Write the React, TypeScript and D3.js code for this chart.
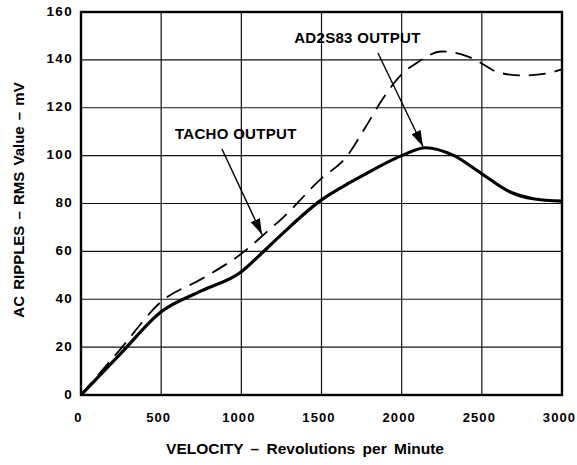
import React, { useEffect, useRef } from 'react';
import * as d3 from 'd3';

// AD2S83 output (solid) – rpm / mV
const solidRpm = [0, 250, 500, 750, 1000, 1100, 1250, 1500, 1650, 1750, 2000, 2150, 2320, 2500, 2680, 2820, 3000];
const solidMv = [0, 17.5, 34.8, 43.5, 51.5, 57.5, 67, 81.5, 87.7, 91.4, 100, 103.3, 100.2, 92.4, 84.7, 82, 81];

// Tacho output (dashed)
const dashRpm = [0, 250, 500, 750, 1000, 1190, 1250, 1500, 1650, 1780, 1880, 2000, 2100, 2250, 2410, 2500, 2600, 2750, 2900, 3000];
const dashMv = [0, 19.5, 39, 48.4, 59, 70, 73.5, 90.5, 99, 112.5, 123.5, 134, 139, 143.5, 141.5, 138.5, 134.8, 133.5, 134.3, 136];

const xTicks = [0, 500, 1000, 1500, 2000, 2500, 3000];
const yTicks = [0, 20, 40, 60, 80, 100, 120, 140, 160];

// annotations: text anchor + arrow tail/tip in data units
const notes = [
  { label: 'TACHO OUTPUT', text: [586, 107], tail: [879, 102.8], tip: [1129, 67] },
  { label: 'AD2S83 OUTPUT', text: [1330, 147], tail: [1852, 142.9], tip: [2133, 103.8] },
];

const FONT = '"Liberation Sans", Arial, Helvetica, sans-serif';

const App = () => {
  const ref = useRef<SVGSVGElement>(null);

  useEffect(() => {
    const svg = d3.select(ref.current);
    svg.selectAll('*').remove();

    const x = d3.scaleLinear().domain([0, 3000]).range([81, 562]);
    const y = d3.scaleLinear().domain([0, 160]).range([395, 12]);

    // grid
    const grid = svg.append('g');
    grid
      .selectAll('line.vx')
      .data(xTicks)
      .enter()
      .append('line')
      .attr('x1', d => x(d))
      .attr('x2', d => x(d))
      .attr('y1', y(0))
      .attr('y2', y(160))
      .attr('stroke', '#111')
      .attr('stroke-width', 1.2);
    grid
      .selectAll('line.hy')
      .data(yTicks)
      .enter()
      .append('line')
      .attr('x1', x(0))
      .attr('x2', x(3000))
      .attr('y1', d => y(d))
      .attr('y2', d => y(d))
      .attr('stroke', '#111')
      .attr('stroke-width', 1.2);

    // frame
    svg
      .append('rect')
      .attr('x', x(0))
      .attr('y', y(160))
      .attr('width', x(3000) - x(0))
      .attr('height', y(0) - y(160))
      .attr('fill', 'none')
      .attr('stroke', '#000')
      .attr('stroke-width', 2.4);

    // tick labels
    svg
      .append('g')
      .selectAll('text')
      .data(xTicks)
      .enter()
      .append('text')
      .attr('x', d => x(d) - 2.5)
      .attr('y', 422)
      .attr('text-anchor', 'middle')
      .style('font', `bold 13px ${FONT}`)
      .style('letter-spacing', '1.1px')
      .text(d => d);
    svg
      .append('g')
      .selectAll('text')
      .data(yTicks)
      .enter()
      .append('text')
      .attr('x', 73)
      .attr('y', d => y(d) + 3.5)
      .attr('text-anchor', 'end')
      .style('font', `bold 13.5px ${FONT}`)
      .style('letter-spacing', '1.3px')
      .text(d => d);

    // axis titles
    svg
      .append('text')
      .attr('x', 305)
      .attr('y', 454)
      .attr('text-anchor', 'middle')
      .style('font', `bold 15.5px ${FONT}`)
      .style('word-spacing', '3px')
      .text('VELOCITY – Revolutions per Minute');
    svg
      .append('text')
      .attr('transform', 'translate(24,200) rotate(-90)')
      .attr('text-anchor', 'middle')
      .style('font', `bold 15px ${FONT}`)
      .style('word-spacing', '2px')
      .text('AC RIPPLES – RMS Value – mV');

    // curves
    const line = d3
      .line<number>()
      .curve(d3.curveMonotoneX);

    svg
      .append('path')
      .attr(
        'd',
        line.x((d, i) => x(dashRpm[i])).y(d => y(d))(dashMv),
      )
      .attr('fill', 'none')
      .attr('stroke', '#000')
      .attr('stroke-width', 1.8)
      .attr('stroke-dasharray', '17,9');

    svg
      .append('path')
      .attr(
        'd',
        line.x((d, i) => x(solidRpm[i])).y(d => y(d))(solidMv),
      )
      .attr('fill', 'none')
      .attr('stroke', '#000')
      .attr('stroke-width', 3.2)
      .attr('stroke-linejoin', 'round');

    // annotations
    const defs = svg.append('defs');
    defs
      .append('marker')
      .attr('id', 'arrowHead')
      .attr('viewBox', '0 0 16 10')
      .attr('refX', 16)
      .attr('refY', 5)
      .attr('markerWidth', 16)
      .attr('markerHeight', 10)
      .attr('markerUnits', 'userSpaceOnUse')
      .attr('orient', 'auto')
      .append('path')
      .attr('d', 'M0,0 L16,5 L0,10 Z')
      .attr('fill', '#000');

    const ann = svg.append('g');
    notes.forEach(n => {
      ann
        .append('text')
        .attr('x', x(n.text[0]))
        .attr('y', y(n.text[1]))
        .style('font', `bold 15px ${FONT}`)
        .style('letter-spacing', '0.3px')
        .text(n.label);
      ann
        .append('line')
        .attr('x1', x(n.tail[0]))
        .attr('y1', y(n.tail[1]))
        .attr('x2', x(n.tip[0]))
        .attr('y2', y(n.tip[1]))
        .attr('stroke', '#000')
        .attr('stroke-width', 1.4)
        .attr('marker-end', 'url(#arrowHead)');
    });
  }, []);

  return (
    <svg
      ref={ref}
      width={577}
      height={465}
      style={{ position: 'absolute', left: 0, top: 0, background: '#fff' }}
    />
  );
};

export default App;
